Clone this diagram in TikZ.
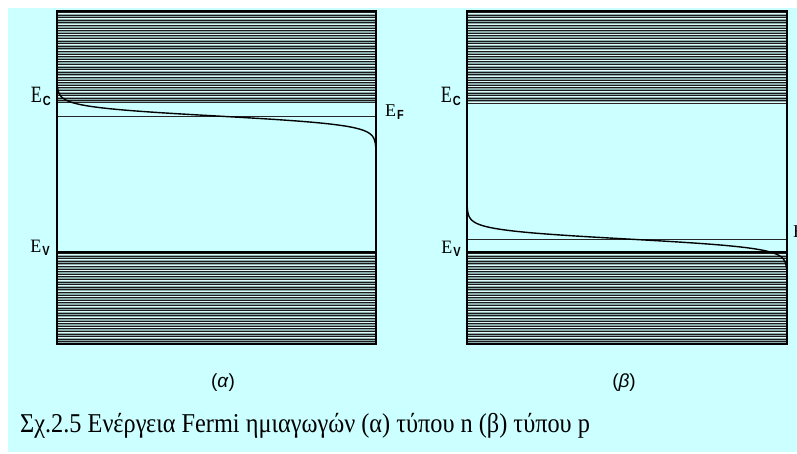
\documentclass[tikz,border=0pt]{standalone}
\usepackage{fontspec}
\setmainfont{Liberation Serif}
\newfontfamily\lsans{Liberation Sans}
\definecolor{bgc}{RGB}{204,255,255}
\definecolor{hatchc}{RGB}{140,172,172}
\definecolor{hlight}{RGB}{225,252,252}
\newcommand\hatchband[4]{%
  \begin{scope}
    \clip (#1,#2) rectangle (#3,#4);
    \fill[hatchc] (#1,#2) rectangle (#3,#4);
    \foreach \k in {0,...,40}{\draw[black!90,line width=0.4pt] (#1,#2+1.2+2.6*\k) -- (#3,#2+1.2+2.6*\k);}
    \foreach \k in {0,...,20}{\draw[hlight,line width=0.55pt] (#1,#2+2.5+5.2*\k) -- (#3,#2+2.5+5.2*\k);}
  \end{scope}}
% #1 y-stretch of E, #2 subscript letter
\newcommand\elab[2]{\scalebox{1}[#1]{\fontsize{18}{18}\selectfont E}\kern1pt\raisebox{-2.5pt}{\scalebox{1}[1.2]{\fontsize{11}{11}\selectfont\lsans\bfseries #2}}}
\tikzset{
  boxedge/.style={black,line width=1.6pt},
  thinline/.style={black!85,line width=0.9pt},
  fermicurve/.style={black,line width=1.4pt},
  lab/.style={inner sep=0pt,anchor=base east},
  sublab/.style={inner sep=0pt,font=\lsans\fontsize{19}{19}\selectfont},
  captext/.style={inner sep=0pt,anchor=base west,font=\fontsize{24.3}{24.3}\selectfont}
}
\begin{document}
\begin{tikzpicture}[x=1pt,y=-1pt]
\useasboundingbox (0,0) rectangle (797,454);
\fill[bgc] (8,8) rectangle (797,452);
% left panel (n type)
\hatchband{57}{11}{376}{102}
\hatchband{57}{252}{376}{344}
\draw[thinline] (57,102) -- (376,102);
\draw[thinline] (57,116) -- (376,116);
\draw[boxedge] (57,252) -- (376,252);
\draw[boxedge] (57,11) rectangle (376,344);
\draw[fermicurve] plot[domain=-40:40,samples=121,variable=\t] ({57+319/(1+exp(-\t/4.5))},{116+\t});
% right panel (p type)
\hatchband{467}{11}{787}{103}
\hatchband{467}{252}{787}{344}
\draw[thinline] (467,103) -- (787,103);
\draw[thinline] (467,239) -- (787,239);
\draw[boxedge] (467,252) -- (787,252);
\draw[boxedge] (467,11) rectangle (787,344);
\draw[fermicurve] plot[domain=-40:40,samples=121,variable=\t] ({467+320/(1+exp(-\t/4.5))},{239+\t});
% labels
\node[lab] (ecL) at (51,103) {\elab{1.3}{C}};
\node[lab] (evL) at (50,253) {\elab{1.05}{V}};
\node[lab,anchor=base west] (efL) at (385,117) {\elab{1.0}{F}};
\node[lab] (ecR) at (461,103) {\elab{1.3}{C}};
\node[lab] (evR) at (461,254) {\elab{1.05}{V}};
\node[lab,anchor=base west] (efR) at (793,238) {\elab{1.0}{F}};
\node[sublab] (sa) at (223,383) {(\textit{α})};
\node[sublab] (sb) at (624,383) {(\textit{β})};
\node[captext] (caption) at (20,432) {\scalebox{1}[1.12]{Σχ.2.5 Ενέργεια Fermi ημιαγωγών (α) τύπου n (β) τύπου p}};
\end{tikzpicture}
\end{document}
